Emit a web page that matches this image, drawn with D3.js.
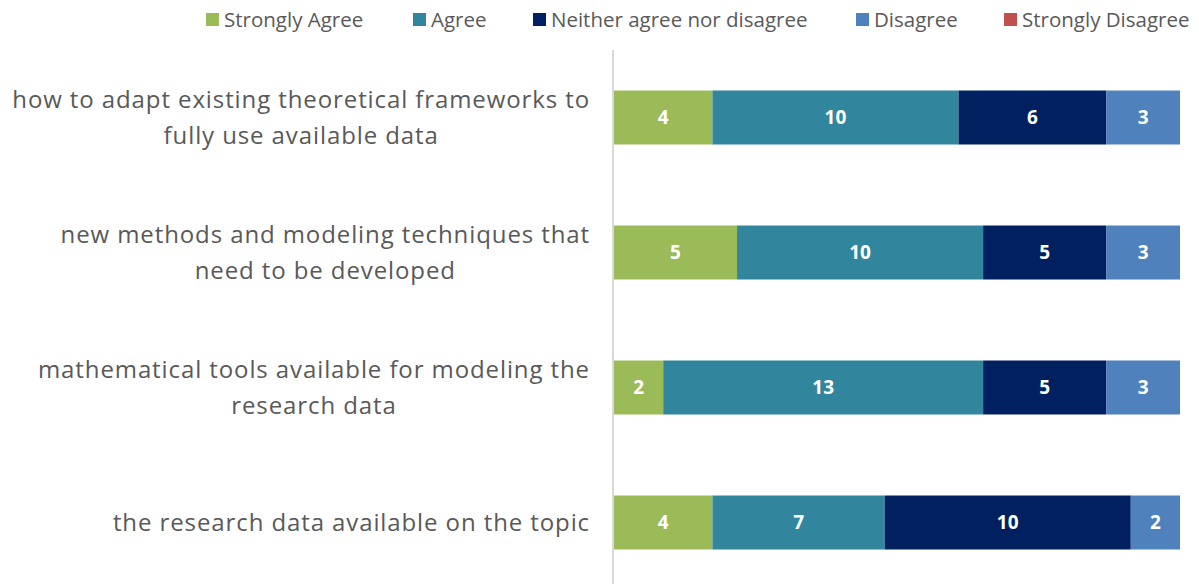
<!DOCTYPE html>
<html>
<head>
<meta charset="utf-8">
<script src="https://cdn.jsdelivr.net/npm/d3@7"></script>
<style>
    body { margin: 0; background: #fff; }
    svg { display: block; }
</style>
</head>
<body>
<div id="chart"></div>
<script>

// data
const categories = [
    ["how to adapt existing theoretical frameworks to", "fully use available data"],
    ["new methods and modeling techniques that", "need to be developed"],
    ["mathematical tools available for modeling the", "research data"],
    ["the research data available on the topic"]
];
const seriesNames = ["Strongly Agree", "Agree", "Neither agree nor disagree", "Disagree", "Strongly Disagree"];
const stronglyAgree = [4, 5, 2, 4];
const agree = [10, 10, 13, 7];
const neither = [6, 5, 5, 10];
const disagree = [3, 3, 3, 2];
const stronglyDisagree = [0, 0, 0, 0];

const colors = ["#9bbb59", "#31859c", "#002060", "#4f81bd", "#c0504d"];

const width = 1199, height = 584;

const rows = categories.map((c, i) => ({
    key: i,
    lines: c,
    values: [stronglyAgree[i], agree[i], neither[i], disagree[i], stronglyDisagree[i]]
}));

const svg = d3.select("#chart").append("svg")
    .attr("width", width)
    .attr("height", height);

const x = d3.scaleLinear()
    .domain([0, 23])
    .range([614, 1180]);

const y = d3.scaleBand()
    .domain(rows.map(d => d.key))
    .range([50, 590])
    .paddingInner(0.6)
    .paddingOuter(0.3);

// stacked segments
const stack = d3.stack()
    .keys(d3.range(seriesNames.length))
    .value((d, k) => d.values[k]);

const layers = stack(rows);

const layerG = svg.selectAll(".layer")
    .data(layers)
    .enter().append("g")
    .attr("class", "layer")
    .attr("fill", (d, i) => colors[i]);

layerG.selectAll("rect")
    .data(d => d.filter(s => s[1] - s[0] > 0))
    .enter().append("rect")
    .attr("x", s => x(s[0]))
    .attr("y", s => y(s.data.key))
    .attr("width", s => x(s[1]) - x(s[0]))
    .attr("height", y.bandwidth());

layerG.selectAll("text")
    .data(d => d.filter(s => s[1] - s[0] > 0))
    .enter().append("text")
    .attr("x", s => (x(s[0]) + x(s[1])) / 2)
    .attr("y", s => y(s.data.key) + y.bandwidth() / 2)
    .attr("dy", "0.36em")
    .attr("text-anchor", "middle")
    .attr("fill", "#fff")
    .style("font-family", "'Open Sans', sans-serif")
    .style("font-weight", "bold")
    .style("font-size", "19px")
    .text(s => s[1] - s[0]);

// vertical axis line
svg.append("line")
    .attr("x1", 613).attr("x2", 613)
    .attr("y1", 50).attr("y2", height)
    .attr("stroke", "#d9d9d9")
    .attr("stroke-width", 2);

// category labels
const labels = svg.selectAll(".cat")
    .data(rows)
    .enter().append("text")
    .attr("class", "cat")
    .attr("text-anchor", "end")
    .attr("fill", "#595959")
    .style("font-family", "'Open Sans', sans-serif")
    .style("font-size", "24px")
    .style("letter-spacing", "0.9px");

labels.each(function(d) {
    const mid = y(d.key) + y.bandwidth() / 2;
    const n = d.lines.length;
    const lh = 36;
    const t = d3.select(this);
    d.lines.forEach((line, i) => {
        t.append("tspan")
            .attr("x", 590)
            .attr("y", mid + (i - (n - 1) / 2) * lh)
            .attr("dy", "0.35em")
            .text(line);
    });
});

// second lines are centred under the first line
labels.each(function(d) {
    if (d.lines.length < 2) return;
    const spans = d3.select(this).selectAll("tspan").nodes();
    const firstW = spans[0].getComputedTextLength();
    const centre = 590 - firstW / 2;
    d3.select(spans[1]).attr("x", centre).attr("text-anchor", "middle");
});

// legend
const legendX = [206, 413, 533, 856, 1004];
const legend = svg.selectAll(".legend")
    .data(seriesNames)
    .enter().append("g")
    .attr("class", "legend")
    .attr("transform", (d, i) => `translate(${legendX[i]},20)`);

legend.append("rect")
    .attr("x", 0)
    .attr("y", -7)
    .attr("width", 13)
    .attr("height", 13)
    .attr("fill", (d, i) => colors[i]);

legend.append("text")
    .attr("x", 18)
    .attr("dy", "0.35em")
    .attr("fill", "#595959")
    .style("font-family", "'Open Sans', sans-serif")
    .style("font-size", "20.5px")
    .text(d => d);

</script>
</body>
</html>
